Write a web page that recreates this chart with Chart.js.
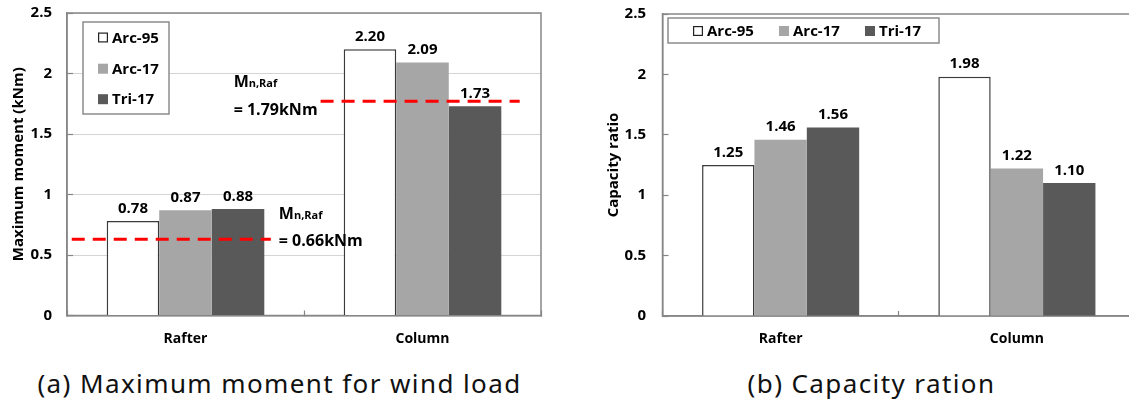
<!DOCTYPE html>
<html>
<head>
<meta charset="utf-8">
<script src="https://cdn.jsdelivr.net/npm/chart.js@4"></script>
<style>
  html, body { margin:0; padding:0; background:#fff; }
  body { width:1129px; height:400px; overflow:hidden; position:relative; }
  canvas { position:absolute; top:0; }
  #ca { left:0; }
  #cb { left:570px; }
  .cap { position:absolute; top:367px; height:32px; line-height:32px; text-align:center;
         font-family:"Noto Sans", sans-serif; font-size:26px; color:#111; white-space:nowrap; letter-spacing:1.4px; }
  #capA { left:0; width:559px; }
  #capB { left:614px; width:515px; }
</style>
</head>
<body>
<canvas id="ca" width="560" height="360"></canvas>
<canvas id="cb" width="580" height="360"></canvas>
<div id="capA" class="cap">(a) Maximum moment for wind load</div>
<div id="capB" class="cap">(b) Capacity ration</div>
<script>
// ---- data ----
const categories = ['Rafter', 'Column'];
const seriesNames = ['Arc-95', 'Arc-17', 'Tri-17'];
const momentArc95 = [0.78, 2.20];
const momentArc17 = [0.87, 2.09];
const momentTri17 = [0.88, 1.73];
const ratioArc95 = [1.25, 1.98];
const ratioArc17 = [1.46, 1.22];
const ratioTri17 = [1.56, 1.10];
const yAxisMin = 0, yAxisMax = 2.5, yAxisStep = 0.5;
const titleMoment = 'Maximum moment (kNm)';
const titleRatio = 'Capacity ratio';
// nominal capacity reference lines (value as drawn, extent in category-index units)
const refRafter = { y: 0.63, from: -0.48, to: 0.36, text: '= 0.66kNm' };
const refColumn = { y: 1.77, from: 0.57, to: 1.41, text: '= 1.79kNm' };
const refSymbol = 'M', refSub = 'n,Raf';

// ---- styles ----
const FONT = '"Open Sans", "Noto Sans", sans-serif';
const colors = ['#ffffff', '#a6a6a6', '#595959'];
const frameColor = '#868686';

function barSets(vals) {
  return vals.map((v, i) => ({
    label: seriesNames[i],
    data: v,
    backgroundColor: colors[i],
    borderColor: i === 0 ? '#3a3a3a' : colors[i],
    borderWidth: i === 0 ? 1.5 : 0,
    borderSkipped: 'bottom',
    categoryPercentage: 0.665,
    barPercentage: 1.0
  }));
}

const framePlugin = {
  id: 'frame',
  beforeDatasetsDraw(chart) {
    const {ctx, chartArea: a} = chart;
    ctx.save();
    ctx.strokeStyle = frameColor; ctx.lineWidth = 1.5;
    ctx.strokeRect(a.left, a.top, a.right - a.left, a.bottom - a.top);
    ctx.restore();
  }
};

const valueLabels = {
  id: 'valueLabels',
  afterDatasetsDraw(chart) {
    const ctx = chart.ctx;
    ctx.save();
    ctx.font = 'bold 15px ' + FONT;
    ctx.fillStyle = '#000'; ctx.textAlign = 'center'; ctx.textBaseline = 'alphabetic';
    chart.data.datasets.forEach((ds, di) => {
      const meta = chart.getDatasetMeta(di);
      meta.data.forEach((el, i) => {
        ctx.fillText(ds.data[i].toFixed(2), el.x, el.y - 8.5);
      });
    });
    ctx.restore();
  }
};

const boxLegend = {
  id: 'boxLegend',
  afterDatasetsDraw(chart, args, o) {
    const {ctx, chartArea: a} = chart;
    const x0 = a.left + o.x, y0 = a.top + o.y;
    ctx.save();
    ctx.fillStyle = '#fff'; ctx.fillRect(x0, y0, o.w, o.h);
    ctx.strokeStyle = '#8c8c8c'; ctx.lineWidth = 1.5; ctx.strokeRect(x0, y0, o.w, o.h);
    ctx.font = 'bold 15px ' + FONT; ctx.textBaseline = 'middle'; ctx.textAlign = 'left';
    chart.data.datasets.forEach((ds, i) => {
      const ix = x0 + o.itemX[i], iy = y0 + o.itemY[i];
      ctx.fillStyle = ds.backgroundColor; ctx.fillRect(ix, iy - 5, 10, 10);
      if (ds.borderWidth) { ctx.strokeStyle = '#222'; ctx.lineWidth = 1.2; ctx.strokeRect(ix + 0.6, iy - 4.4, 8.8, 8.8); }
      ctx.fillStyle = '#000'; ctx.fillText(ds.label, ix + 14, iy + 1);
    });
    ctx.restore();
  }
};

// red dashed capacity lines + their labels, placed through the chart's scales
const refLines = {
  id: 'refLines',
  afterDatasetsDraw(chart) {
    const ctx = chart.ctx, xs = chart.scales.x, ys = chart.scales.y;
    ctx.save();
    ctx.strokeStyle = '#ff0000'; ctx.lineWidth = 3; ctx.setLineDash([13, 8]); ctx.lineCap = 'butt';
    [refRafter, refColumn].forEach(r => {
      const py = ys.getPixelForValue(r.y);
      ctx.beginPath();
      ctx.moveTo(xs.getPixelForValue(r.from), py);
      ctx.lineTo(xs.getPixelForValue(r.to), py);
      ctx.stroke();
    });
    ctx.setLineDash([]);
    ctx.fillStyle = '#000'; ctx.textBaseline = 'alphabetic'; ctx.textAlign = 'left';
    function sym(x, y) {
      ctx.font = 'bold 16px ' + FONT; ctx.fillText(refSymbol, x, y);
      const w = ctx.measureText(refSymbol).width;
      ctx.font = 'bold 11px ' + FONT; ctx.fillText(refSub, x + w, y);
    }
    let py = ys.getPixelForValue(refRafter.y), px = xs.getPixelForValue(refRafter.to) + 8;
    sym(px, py - 20);
    ctx.font = 'bold 16px ' + FONT; ctx.fillText(refRafter.text, px, py + 7);
    py = ys.getPixelForValue(refColumn.y);
    ctx.font = 'bold 16px ' + FONT;
    const tw = ctx.measureText(refColumn.text).width;
    px = xs.getPixelForValue(refColumn.from) - 3 - tw;
    ctx.fillText(refColumn.text, px, py + 13.5);
    sym(px, py - 14);
    ctx.restore();
  }
};

function makeOpts(cfg) {
  return {
    responsive: false, animation: false, devicePixelRatio: 1,
    layout: { padding: cfg.padding },
    scales: {
      x: {
        type: 'category', offset: true,
        grid: { offset: true, drawOnChartArea: false, tickLength: -5, tickColor: frameColor, tickWidth: 1.2 },
        border: { display: true, color: frameColor, width: 1.5 },
        ticks: { color: '#000', font: { family: FONT, size: 14, weight: 'bold' }, padding: 20 },
        afterFit: s => { s.height = cfg.xHeight; s.paddingLeft = 0; s.paddingRight = 0; }
      },
      y: {
        min: yAxisMin, max: yAxisMax,
        ticks: { stepSize: yAxisStep, color: '#000', font: { family: FONT, size: 15, weight: 'bold' },
                 padding: cfg.tickPad, callback: v => String(v) },
        grid: { drawOnChartArea: cfg.gridOn, color: '#d4d4d4', lineWidth: 1, tickColor: frameColor, tickLength: -6, tickWidth: 1.2 },
        border: { display: true, color: frameColor, width: 1.5 },
        title: { display: true, text: cfg.title, color: '#000', font: { family: FONT, size: 15, weight: 'bold' },
                 padding: { top: cfg.titlePad, bottom: 0 } },
        afterFit: s => { s.width = cfg.yWidth; s.paddingTop = 0; s.paddingBottom = 0; }
      }
    },
    plugins: {
      legend: { display: false },
      tooltip: { enabled: false },
      boxLegend: cfg.legend
    }
  };
}

new Chart(document.getElementById('ca'), {
  type: 'bar',
  data: { labels: categories, datasets: barSets([momentArc95, momentArc17, momentTri17]) },
  options: makeOpts({
    padding: { left: 0, right: 19, top: 13, bottom: 0 }, xHeight: 44.5, yWidth: 67,
    tickPad: 21, gridOn: true, title: titleMoment, titlePad: 10,
    legend: { x: 16, y: 9, w: 86, h: 92, itemX: [15, 15, 15], itemY: [15.5, 46.7, 77.2] }
  }),
  plugins: [framePlugin, valueLabels, boxLegend, refLines]
});

new Chart(document.getElementById('cb'), {
  type: 'bar',
  data: { labels: categories, datasets: barSets([ratioArc95, ratioArc17, ratioTri17]) },
  options: makeOpts({
    padding: { left: 0, right: 15, top: 14, bottom: 0 }, xHeight: 44, yWidth: 92.5,
    tickPad: 22.5, gridOn: false, title: titleRatio, titlePad: 35,
    legend: { x: 5.5, y: 4, w: 271, h: 25, itemX: [25, 111, 197], itemY: [13, 13, 13] }
  }),
  plugins: [framePlugin, valueLabels, boxLegend]
});
</script>
</body>
</html>
